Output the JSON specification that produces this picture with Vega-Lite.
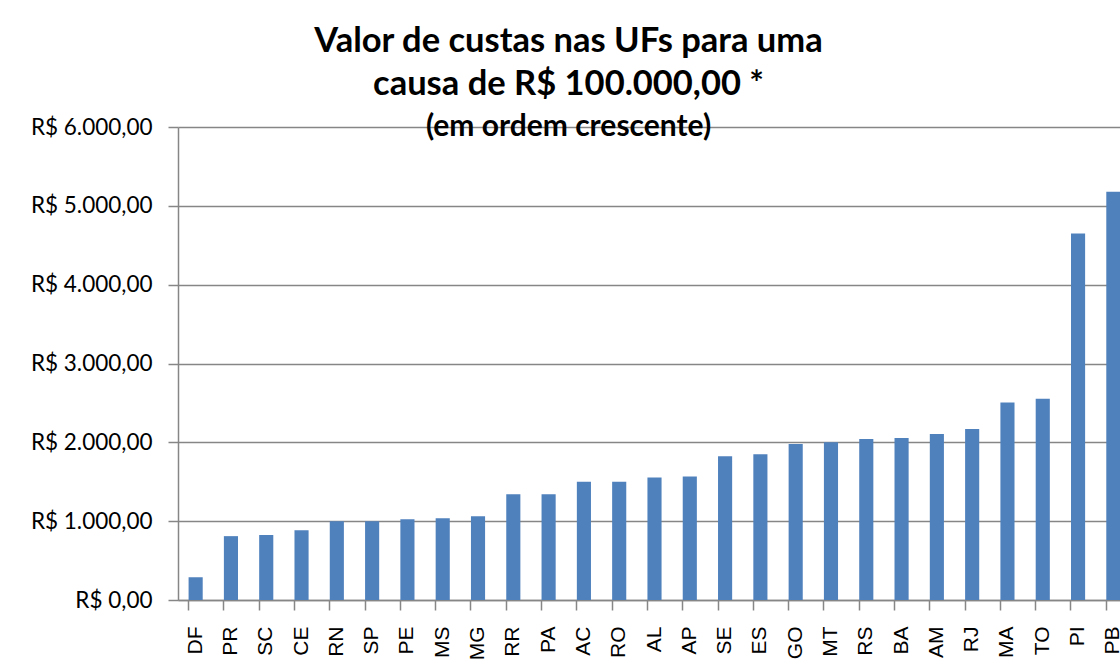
{
  "$schema": "https://vega.github.io/schema/vega-lite/v6.json",
  "autosize": {"type": "none"},
  "padding": {"left": 178, "top": 127, "right": 0, "bottom": 72},
  "width": 953,
  "height": 473,
  "background": "white",
  "config": {
    "locale": {"number": {"decimal": ",", "thousands": ".", "grouping": [3], "currency": ["R$ ", ""]}},
    "view": {"stroke": null}
  },
  "title": {
    "text": ["Valor de custas nas UFs para uma", "causa de R$ 100.000,00 *"],
    "subtitle": "(em ordem crescente)",
    "anchor": "middle",
    "dx": -86,
    "offset": -27,
    "font": "Lato",
    "fontSize": 34.5,
    "fontWeight": "bold",
    "lineHeight": 43,
    "color": "black",
    "subtitleFont": "Lato",
    "subtitleFontSize": 30,
    "subtitleFontWeight": "bold",
    "subtitleColor": "black",
    "subtitlePadding": 10
  },
  "data": {
    "values": [
      {"uf": "DF", "valor": 290},
      {"uf": "PR", "valor": 810},
      {"uf": "SC", "valor": 823},
      {"uf": "CE", "valor": 886},
      {"uf": "RN", "valor": 1000},
      {"uf": "SP", "valor": 1000},
      {"uf": "PE", "valor": 1025},
      {"uf": "MS", "valor": 1038},
      {"uf": "MG", "valor": 1063},
      {"uf": "RR", "valor": 1342},
      {"uf": "PA", "valor": 1342},
      {"uf": "AC", "valor": 1500},
      {"uf": "RO", "valor": 1500},
      {"uf": "AL", "valor": 1554},
      {"uf": "AP", "valor": 1567},
      {"uf": "SE", "valor": 1824},
      {"uf": "ES", "valor": 1850},
      {"uf": "GO", "valor": 1979},
      {"uf": "MT", "valor": 2000},
      {"uf": "RS", "valor": 2042},
      {"uf": "BA", "valor": 2055},
      {"uf": "AM", "valor": 2105},
      {"uf": "RJ", "valor": 2169},
      {"uf": "MA", "valor": 2504},
      {"uf": "TO", "valor": 2554},
      {"uf": "PI", "valor": 4650},
      {"uf": "PB", "valor": 5180}
    ]
  },
  "mark": {"type": "bar", "color": "#4F81BD"},
  "encoding": {
    "x": {
      "field": "uf",
      "type": "nominal",
      "sort": null,
      "title": null,
      "scale": {"paddingInner": 0.6, "paddingOuter": 0.3},
      "axis": {
        "labelAngle": -90,
        "labelAlign": "right",
        "labelBaseline": "middle",
        "labelFont": "Liberation Sans",
        "labelFontSize": 21,
        "labelColor": "black",
        "labelPadding": 16,
        "bandPosition": 0,
        "tickSize": 10,
        "tickColor": "#868686",
        "tickWidth": 1.5,
        "domainColor": "#868686",
        "domainWidth": 1.5,
        "grid": false
      }
    },
    "y": {
      "field": "valor",
      "type": "quantitative",
      "title": null,
      "scale": {"domain": [0, 6000], "nice": false},
      "axis": {
        "values": [0, 1000, 2000, 3000, 4000, 5000, 6000],
        "format": "$,.2f",
        "labelFont": "Lato",
        "labelFontSize": 22.5,
        "labelColor": "black",
        "labelPadding": 16,
        "tickSize": 10,
        "tickColor": "#868686",
        "tickWidth": 1.5,
        "domainColor": "#868686",
        "domainWidth": 1.5,
        "grid": true,
        "gridColor": "#868686",
        "gridWidth": 1.5
      }
    }
  }
}
